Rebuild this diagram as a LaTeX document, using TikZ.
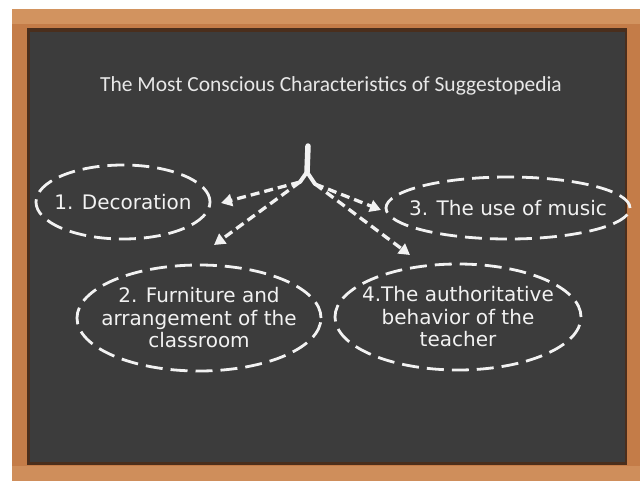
\documentclass[tikz,border=0pt]{standalone}
\usepackage{fontspec}
\setmainfont{DejaVu Sans}
\newfontfamily\titlefont{Carlito}
\usetikzlibrary{arrows.meta}
\definecolor{wood}{HTML}{C47C48}
\definecolor{woodlight}{HTML}{D2935F}
\definecolor{board}{HTML}{3C3C3C}
\definecolor{boardedge}{HTML}{4A2E1C}
\definecolor{chalk}{HTML}{F2F2F2}
\tikzset{
  chalktext/.style={inner sep=0pt, text=chalk, align=center, font=\fontsize{20}{22.5}\selectfont},
  chalkoval/.style={draw=chalk, line width=2.8pt, dash pattern=on 17pt off 8pt},
  chalkarrow/.style={draw=chalk, line width=3.3pt, dash pattern=on 9pt off 5pt,
    -{Triangle[length=11pt,width=12pt]}},
}
\begin{document}
\begin{tikzpicture}[x=1pt,y=-1pt]
\useasboundingbox (0,0) rectangle (640,483);
\fill[white] (0,0) rectangle (640,483);
% frame
\fill[wood] (12,9) rectangle (640,481);
\fill[woodlight] (12,9) rectangle (640,24);
\fill[woodlight!80!wood] (12,466) rectangle (640,481);
% board
\fill[boardedge] (27,28) rectangle (627,465);
\fill[board] (30,32) rectangle (625,462);
% title
\node[text=chalk!90!gray, font=\titlefont\fontsize{21.5}{23}\selectfont] (title) at (331,86)
  {The Most Conscious Characteristics of Suggestopedia};
% ovals
\node[chalktext] (dec) at (123,202) {1. Decoration};
\node[chalktext] (mus) at (508,208) {3. The use of music};
\node[chalktext] (fur) at (199,318) {2. Furniture and\\arrangement of the\\classroom};
\node[chalktext] (tea) at (458,317) {4.The authoritative\\behavior of the\\teacher};
\draw[chalkoval] (dec.center) ellipse [x radius=87pt, y radius=37pt];
\draw[chalkoval] (mus.center) ellipse [x radius=122pt, y radius=31pt];
\draw[chalkoval] (fur.center) ellipse [x radius=122pt, y radius=53pt];
\draw[chalkoval] (tea.center) ellipse [x radius=123pt, y radius=53pt];
% root
\coordinate (top) at (308,146);
\coordinate (root) at (307,172);
\coordinate (lsplit) at (300,182);
\coordinate (rsplit) at (315,184);
\draw[chalk, line width=5.5pt, line cap=round] (top) -- (root);
\draw[chalk, line width=4pt, line cap=round] (root) -- (lsplit);
\draw[chalk, line width=4pt, line cap=round] (root) -- (rsplit);
\coordinate (tipD) at (221,203);
\coordinate (tipF) at (214,245);
\coordinate (tipM) at (381,210);
\coordinate (tipT) at (410,255);
\draw[chalkarrow] (lsplit) -- (tipD);
\draw[chalkarrow] (lsplit) -- (tipF);
\draw[chalkarrow] (rsplit) -- (tipM);
\draw[chalkarrow] (rsplit) -- (tipT);
\end{tikzpicture}
\end{document}
